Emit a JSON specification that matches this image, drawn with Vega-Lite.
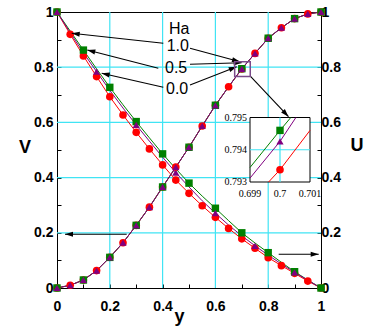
{
  "$schema": "https://vega.github.io/schema/vega-lite/v6.json",
  "width": 264,
  "height": 276,
  "autosize": "none",
  "padding": {"left": 57, "top": 12, "right": 56, "bottom": 43},
  "background": "white",
  "config": {
    "view": {"stroke": "black", "strokeWidth": 1},
    "axis": {
      "labelFont": "Liberation Sans", "labelFontWeight": "bold", "labelFontSize": 14, "labelColor": "black",
      "titleFont": "Liberation Sans", "titleFontSize": 18, "titleFontWeight": "bold", "titleColor": "black",
      "domainColor": "black", "tickColor": "black", "grid": false, "labelFlush": false, "labelOverlap": false
    }
  },
  "datasets": {
    "curves": [
      {"h":"0.0","y":0,"V":1,"U":0},
      {"h":"0.0","y":0.05,"V":0.919,"U":0.010},
      {"h":"0.0","y":0.1,"V":0.841,"U":0.029},
      {"h":"0.0","y":0.15,"V":0.766,"U":0.063},
      {"h":"0.0","y":0.2,"V":0.693,"U":0.111},
      {"h":"0.0","y":0.25,"V":0.627,"U":0.164},
      {"h":"0.0","y":0.3,"V":0.564,"U":0.227},
      {"h":"0.0","y":0.35,"V":0.504,"U":0.293},
      {"h":"0.0","y":0.4,"V":0.446,"U":0.366},
      {"h":"0.0","y":0.45,"V":0.391,"U":0.438},
      {"h":"0.0","y":0.5,"V":0.343,"U":0.510},
      {"h":"0.0","y":0.55,"V":0.298,"U":0.587},
      {"h":"0.0","y":0.6,"V":0.256,"U":0.662},
      {"h":"0.0","y":0.65,"V":0.216,"U":0.729},
      {"h":"0.0","y":0.7,"V":0.178,"U":0.7934},
      {"h":"0.0","y":0.75,"V":0.144,"U":0.850},
      {"h":"0.0","y":0.8,"V":0.110,"U":0.905},
      {"h":"0.0","y":0.85,"V":0.081,"U":0.943},
      {"h":"0.0","y":0.9,"V":0.053,"U":0.976},
      {"h":"0.0","y":0.95,"V":0.025,"U":0.993},
      {"h":"0.0","y":1,"V":0,"U":1},
      {"h":"0.5","y":0,"V":1,"U":0},
      {"h":"0.5","y":0.05,"V":0.931,"U":0.010},
      {"h":"0.5","y":0.1,"V":0.862,"U":0.029},
      {"h":"0.5","y":0.15,"V":0.794,"U":0.063},
      {"h":"0.5","y":0.2,"V":0.727,"U":0.111},
      {"h":"0.5","y":0.25,"V":0.664,"U":0.164},
      {"h":"0.5","y":0.3,"V":0.603,"U":0.227},
      {"h":"0.5","y":0.35,"V":0.544,"U":0.293},
      {"h":"0.5","y":0.4,"V":0.486,"U":0.366},
      {"h":"0.5","y":0.45,"V":0.432,"U":0.438},
      {"h":"0.5","y":0.5,"V":0.380,"U":0.510},
      {"h":"0.5","y":0.55,"V":0.333,"U":0.587},
      {"h":"0.5","y":0.6,"V":0.289,"U":0.662},
      {"h":"0.5","y":0.65,"V":0.244,"U":0.729},
      {"h":"0.5","y":0.7,"V":0.200,"U":0.7946},
      {"h":"0.5","y":0.75,"V":0.163,"U":0.850},
      {"h":"0.5","y":0.8,"V":0.128,"U":0.905},
      {"h":"0.5","y":0.85,"V":0.093,"U":0.943},
      {"h":"0.5","y":0.9,"V":0.059,"U":0.976},
      {"h":"0.5","y":0.95,"V":0.029,"U":0.993},
      {"h":"0.5","y":1,"V":0,"U":1},
      {"h":"1.0","y":0,"V":1,"U":0},
      {"h":"1.0","y":0.05,"V":0.925,"U":0.010},
      {"h":"1.0","y":0.1,"V":0.852,"U":0.029},
      {"h":"1.0","y":0.15,"V":0.784,"U":0.063},
      {"h":"1.0","y":0.2,"V":0.716,"U":0.111},
      {"h":"1.0","y":0.25,"V":0.652,"U":0.164},
      {"h":"1.0","y":0.3,"V":0.591,"U":0.227},
      {"h":"1.0","y":0.35,"V":0.532,"U":0.293},
      {"h":"1.0","y":0.4,"V":0.474,"U":0.366},
      {"h":"1.0","y":0.45,"V":0.418,"U":0.438},
      {"h":"1.0","y":0.5,"V":0.366,"U":0.510},
      {"h":"1.0","y":0.55,"V":0.316,"U":0.587},
      {"h":"1.0","y":0.6,"V":0.271,"U":0.662},
      {"h":"1.0","y":0.65,"V":0.228,"U":0.729},
      {"h":"1.0","y":0.7,"V":0.189,"U":0.7943},
      {"h":"1.0","y":0.75,"V":0.153,"U":0.850},
      {"h":"1.0","y":0.8,"V":0.119,"U":0.905},
      {"h":"1.0","y":0.85,"V":0.087,"U":0.943},
      {"h":"1.0","y":0.9,"V":0.057,"U":0.976},
      {"h":"1.0","y":0.95,"V":0.028,"U":0.993},
      {"h":"1.0","y":1,"V":0,"U":1}
    ],
    "grid": [{"g":0.2},{"g":0.4},{"g":0.6},{"g":0.8}],
    "arrows": [
      {"id":"A1","y":0.4027,"v":0.8866},{"id":"A1","y":0.0557,"v":0.9228},
      {"id":"A2","y":0.3837,"v":0.7960},{"id":"A2","y":0.1148,"v":0.8623},
      {"id":"A3","y":0.4027,"v":0.7272},{"id":"A3","y":0.1693,"v":0.7779},
      {"id":"B1","y":0.5038,"v":0.8685},{"id":"B1","y":0.6932,"v":0.8199},
      {"id":"B2","y":0.5038,"v":0.8105},{"id":"B2","y":0.6996,"v":0.8163},
      {"id":"B3","y":0.5038,"v":0.7355},{"id":"B3","y":0.6807,"v":0.8018},
      {"id":"C","y":0.7322,"v":0.7681},{"id":"C","y":0.8769,"v":0.6207},
      {"id":"D","y":0.2640,"v":0.1946},{"id":"D","y":0.0303,"v":0.1946},
      {"id":"E","y":0.8398,"v":0.1221},{"id":"E","y":0.9913,"v":0.1221}
    ],
    "heads": [
      {"y":0.0557,"v":0.9228,"a":186.2},
      {"y":0.1148,"v":0.8623,"a":194.5},
      {"y":0.1693,"v":0.7779,"a":192.8},
      {"y":0.6932,"v":0.8199,"a":15},
      {"y":0.6996,"v":0.8163,"a":-1.8},
      {"y":0.6807,"v":0.8018,"a":-21.4},
      {"y":0.8769,"v":0.6207,"a":46.7},
      {"y":0.0303,"v":0.1946,"a":180},
      {"y":0.9913,"v":0.1221,"a":0}
    ],
    "inset": [
      {"h":"0.0","x":0.69962,"u":0.793},{"h":"0.0","x":0.7,"u":0.79338},{"h":"0.0","x":0.701,"u":0.7946},
      {"h":"0.5","x":0.699,"u":0.79345},{"h":"0.5","x":0.7,"u":0.7946},{"h":"0.5","x":0.70036,"u":0.795},
      {"h":"1.0","x":0.699,"u":0.79312},{"h":"1.0","x":0.7,"u":0.79426},{"h":"1.0","x":0.70053,"u":0.795}
    ],
    "insetpts": [
      {"h":"0.0","x":0.7,"u":0.79338},
      {"h":"0.5","x":0.7,"u":0.7946},
      {"h":"1.0","x":0.7,"u":0.79426}
    ]
  },
  "layer": [
    {
      "data": {"name": "grid"},
      "mark": {"type": "rule", "color": "#40e4f4", "strokeWidth": 1.2},
      "encoding": {
        "x": {"field": "g", "type": "quantitative", "scale": {"domain": [0, 1], "nice": false}, "axis": null}
      }
    },
    {
      "data": {"name": "grid"},
      "mark": {"type": "rule", "color": "#40e4f4", "strokeWidth": 1.2},
      "encoding": {
        "y": {"field": "g", "type": "quantitative", "scale": {"domain": [0, 1], "nice": false}, "axis": null}
      }
    },
    {
      "data": {"name": "curves"},
      "mark": {"type": "line", "strokeWidth": 1},
      "encoding": {
        "x": {"field": "y", "type": "quantitative", "scale": {"domain": [0, 1], "nice": false},
          "axis": {"orient": "bottom", "title": "y", "values": [0,0.1,0.2,0.3,0.4,0.5,0.6,0.7,0.8,0.9,1],
            "labelExpr": "round(datum.value*10)%2==0 ? format(datum.value,'~g') : ''",
            "tickSize": -4, "labelPadding": 15, "titleX": 122, "titleY": 33, "titleBaseline": "alphabetic", "titleAlign": "center"}},
        "y": {"field": "V", "type": "quantitative", "scale": {"domain": [0, 1], "nice": false},
          "axis": {"orient": "left", "title": "V", "values": [0,0.1,0.2,0.3,0.4,0.5,0.6,0.7,0.8,0.9,1],
            "labelExpr": "round(datum.value*10)%2==0 ? format(datum.value,'~g') : ''",
            "tickSize": -4, "labelPadding": 8, "titleAngle": 0, "titleX": -32.5, "titleY": 135.5, "titleAlign": "center", "titleBaseline": "middle"}},
        "color": {"field": "h", "type": "nominal", "scale": {"domain": ["0.0","0.5","1.0"], "range": ["#ff0000","#008000","#800080"]}, "legend": null}
      }
    },
    {
      "data": {"name": "curves"},
      "transform": [{"filter": "datum.h=='0.0' || (datum.h=='0.5' && round(datum.y*20)%2==0) || (datum.h=='1.0' && round(datum.y*20)%3==0)"}],
      "mark": {"type": "point", "filled": true, "opacity": 1},
      "encoding": {
        "x": {"field": "y", "type": "quantitative", "scale": {"domain": [0, 1], "nice": false}, "axis": null},
        "y": {"field": "V", "type": "quantitative", "scale": {"domain": [0, 1], "nice": false}, "axis": null},
        "color": {"field": "h", "type": "nominal", "legend": null},
        "shape": {"field": "h", "type": "nominal", "scale": {"domain": ["0.0","0.5","1.0"], "range": ["circle","square","triangle-up"]}, "legend": null},
        "size": {"field": "h", "type": "nominal", "scale": {"domain": ["0.0","0.5","1.0"], "range": [58, 52, 80]}, "legend": null}
      }
    },
    {
      "data": {"name": "curves"},
      "mark": {"type": "line", "strokeWidth": 1},
      "encoding": {
        "x": {"field": "y", "type": "quantitative", "scale": {"domain": [0, 1], "nice": false}, "axis": null},
        "y": {"field": "U", "type": "quantitative", "scale": {"domain": [0, 1], "nice": false},
          "axis": {"orient": "right", "title": "U", "values": [0,0.1,0.2,0.3,0.4,0.5,0.6,0.7,0.8,0.9,1],
            "labelExpr": "round(datum.value*10)%2==0 ? format(datum.value,'~g') : ''",
            "tickSize": -4, "labelPadding": 4, "titleAngle": 0, "titleX": 35.5, "titleY": 133, "titleAlign": "center", "titleBaseline": "middle"}},
        "color": {"field": "h", "type": "nominal", "legend": null}
      }
    },
    {
      "data": {"name": "curves"},
      "transform": [{"filter": "datum.h=='0.0' || (datum.h=='0.5' && round(datum.y*20)%2==0) || (datum.h=='1.0' && round(datum.y*20)!=13)"}],
      "mark": {"type": "point", "filled": true, "opacity": 1},
      "encoding": {
        "x": {"field": "y", "type": "quantitative", "scale": {"domain": [0, 1], "nice": false}, "axis": null},
        "y": {"field": "U", "type": "quantitative", "scale": {"domain": [0, 1], "nice": false}, "axis": null},
        "color": {"field": "h", "type": "nominal", "legend": null},
        "shape": {"field": "h", "type": "nominal", "legend": null},
        "size": {"field": "h", "type": "nominal", "legend": null}
      }
    },
    {
      "data": {"name": "arrows"},
      "mark": {"type": "line", "color": "black", "strokeWidth": 1.1},
      "encoding": {
        "x": {"field": "y", "type": "quantitative", "scale": {"domain": [0, 1], "nice": false}, "axis": null},
        "y": {"field": "v", "type": "quantitative", "scale": {"domain": [0, 1], "nice": false}, "axis": null},
        "detail": {"field": "id"}
      }
    },
    {
      "data": {"name": "heads"},
      "mark": {"type": "point", "shape": "M0,0L-1,-0.32L-1,0.32Z", "filled": true, "color": "black", "opacity": 1, "size": 256},
      "encoding": {
        "x": {"field": "y", "type": "quantitative", "scale": {"domain": [0, 1], "nice": false}, "axis": null},
        "y": {"field": "v", "type": "quantitative", "scale": {"domain": [0, 1], "nice": false}, "axis": null},
        "angle": {"field": "a", "type": "quantitative", "scale": null}
      }
    },
    {
      "data": {"values": [
        {"y":0.4242,"v":0.9373,"t":"Ha"},
        {"y":0.4155,"v":0.8768,"t":"1.0"},
        {"y":0.4091,"v":0.7960,"t":"0.5"},
        {"y":0.4129,"v":0.7199,"t":"0.0"}
      ]},
      "mark": {"type": "text", "align": "left", "baseline": "middle", "font": "Liberation Sans", "fontSize": 16, "color": "black"},
      "encoding": {
        "x": {"field": "y", "type": "quantitative", "scale": {"domain": [0, 1], "nice": false}, "axis": null},
        "y": {"field": "v", "type": "quantitative", "scale": {"domain": [0, 1], "nice": false}, "axis": null},
        "text": {"field": "t"}
      }
    },
    {
      "data": {"values": [{"y":0.673,"y2":0.732,"v":0.766,"v2":0.820}]},
      "mark": {"type": "rect", "fillOpacity": 0, "stroke": "#7a4a8a", "strokeWidth": 1.5},
      "encoding": {
        "x": {"field": "y", "type": "quantitative", "scale": {"domain": [0, 1], "nice": false}, "axis": null},
        "x2": {"field": "y2"},
        "y": {"field": "v", "type": "quantitative", "scale": {"domain": [0, 1], "nice": false}, "axis": null},
        "y2": {"field": "v2"}
      }
    },
    {
      "data": {"values": [{"x":0.699,"x2":0.701,"u":0.793,"u2":0.795}]},
      "mark": {"type": "rect", "fill": "white", "stroke": "black", "strokeWidth": 1},
      "encoding": {
        "x": {"field": "x", "type": "quantitative", "scale": {"domain": [0.699, 0.701], "range": [193, 253], "nice": false, "zero": false}, "axis": null},
        "x2": {"field": "x2"},
        "y": {"field": "u", "type": "quantitative", "scale": {"domain": [0.793, 0.795], "range": [170, 105.5], "nice": false, "zero": false}, "axis": null},
        "y2": {"field": "u2"}
      }
    },
    {
      "data": {"values": [{"x":0.7,"x2":0.7,"u":0.793,"u2":0.795},{"x":0.699,"x2":0.701,"u":0.794,"u2":0.794}]},
      "mark": {"type": "rule", "color": "#40e4f4", "strokeWidth": 1.2},
      "encoding": {
        "x": {"field": "x", "type": "quantitative", "scale": {"domain": [0.699, 0.701], "range": [193, 253], "nice": false, "zero": false}, "axis": null},
        "x2": {"field": "x2"},
        "y": {"field": "u", "type": "quantitative", "scale": {"domain": [0.793, 0.795], "range": [170, 105.5], "nice": false, "zero": false}, "axis": null},
        "y2": {"field": "u2"}
      }
    },
    {
      "data": {"name": "inset"},
      "mark": {"type": "line", "strokeWidth": 1},
      "encoding": {
        "x": {"field": "x", "type": "quantitative", "scale": {"domain": [0.699, 0.701], "range": [193, 253], "nice": false, "zero": false}, "axis": null},
        "y": {"field": "u", "type": "quantitative", "scale": {"domain": [0.793, 0.795], "range": [170, 105.5], "nice": false, "zero": false}, "axis": null},
        "color": {"field": "h", "type": "nominal", "legend": null}
      }
    },
    {
      "data": {"name": "insetpts"},
      "mark": {"type": "point", "filled": true, "opacity": 1},
      "encoding": {
        "x": {"field": "x", "type": "quantitative", "scale": {"domain": [0.699, 0.701], "range": [193, 253], "nice": false, "zero": false}, "axis": null},
        "y": {"field": "u", "type": "quantitative", "scale": {"domain": [0.793, 0.795], "range": [170, 105.5], "nice": false, "zero": false}, "axis": null},
        "color": {"field": "h", "type": "nominal", "legend": null},
        "shape": {"field": "h", "type": "nominal", "legend": null},
        "size": {"field": "h", "type": "nominal", "legend": null}
      }
    },
    {
      "data": {"values": [
        {"x":0.699,"u":0.795,"t":"0.795"},
        {"x":0.699,"u":0.794,"t":"0.794"},
        {"x":0.699,"u":0.793,"t":"0.793"}
      ]},
      "mark": {"type": "text", "align": "right", "baseline": "middle", "dx": -3, "font": "Liberation Serif", "fontSize": 10, "color": "black"},
      "encoding": {
        "x": {"field": "x", "type": "quantitative", "scale": {"domain": [0.699, 0.701], "range": [193, 253], "nice": false, "zero": false}, "axis": null},
        "y": {"field": "u", "type": "quantitative", "scale": {"domain": [0.793, 0.795], "range": [170, 105.5], "nice": false, "zero": false}, "axis": null},
        "text": {"field": "t"}
      }
    },
    {
      "data": {"values": [
        {"x":0.699,"u":0.793,"t":"0.699"},
        {"x":0.7,"u":0.793,"t":"0.7"},
        {"x":0.701,"u":0.793,"t":"0.701"}
      ]},
      "mark": {"type": "text", "align": "center", "baseline": "middle", "dy": 12, "font": "Liberation Serif", "fontSize": 10, "color": "black"},
      "encoding": {
        "x": {"field": "x", "type": "quantitative", "scale": {"domain": [0.699, 0.701], "range": [193, 253], "nice": false, "zero": false}, "axis": null},
        "y": {"field": "u", "type": "quantitative", "scale": {"domain": [0.793, 0.795], "range": [170, 105.5], "nice": false, "zero": false}, "axis": null},
        "text": {"field": "t"}
      }
    }
  ],
  "resolve": {"scale": {"x": "independent", "y": "independent"}}
}
